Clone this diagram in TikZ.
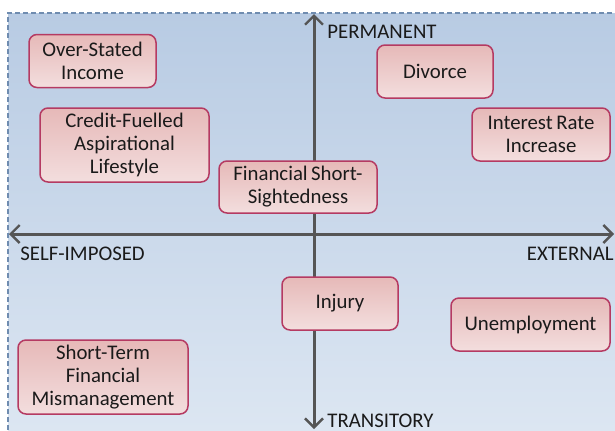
\documentclass[tikz,border=0pt]{standalone}
\usepackage{fontspec}
\setmainfont{Carlito}
\usetikzlibrary{arrows.meta}
\definecolor{bgtop}{HTML}{B8CBE3}
\definecolor{bgbot}{HTML}{DCE6F2}
\definecolor{frame}{HTML}{6F8CB0}
\definecolor{axis}{HTML}{555555}
\definecolor{boxtop}{HTML}{E6B9B8}
\definecolor{boxbot}{HTML}{F3DEDE}
\definecolor{boxline}{HTML}{B53A62}
\definecolor{ink}{HTML}{1A1A1A}
\tikzset{
  cause/.style={draw=boxline, line width=0.75pt, rounded corners=4pt,
    top color=boxtop, bottom color=boxbot, inner sep=0pt, align=center,
    text=ink, font=\fontsize{10.4}{11.5}\selectfont},
  axisline/.style={draw=axis, line width=1.5pt,
    -{Straight Barb[length=4.5pt,width=9pt,line width=1.2pt]}},
  axislabel/.style={text=ink, inner sep=0pt, font=\fontsize{10.4}{11.5}\selectfont}
}
\begin{document}
\begin{tikzpicture}[x=0.5pt,y=-0.5pt]
\useasboundingbox (0,0) rectangle (615,430);
% shaded quadrant area with dashed frame
\shade[top color=bgtop, bottom color=bgbot] (8,13) rectangle (615,430);
\draw[frame, dashed, line width=0.6pt, dash pattern=on 2.5pt off 1.5pt] (8,430) -- (8,13) -- (615,13);
% axis end points
\coordinate (cross) at (314,234);
\coordinate (west) at (9,234);
\coordinate (east) at (614,234);
\coordinate (north) at (314,14);
\coordinate (south) at (314,429);
\draw[axisline] (cross) -- (west);
\draw[axisline] (cross) -- (east);
\draw[axisline] (cross) -- (north);
\draw[axisline] (cross) -- (south);
% axis labels
\node[axislabel, anchor=west] (perm) at (327,32) {PERMANENT};
\node[axislabel, anchor=west] (trans) at (327,421) {TRANSITORY};
\node[axislabel, anchor=west] (self) at (20,254) {SELF-IMPOSED};
\node[axislabel, anchor=east] (ext) at (614,254) {EXTERNAL};
% causes
\node[cause, minimum width=63.5pt, minimum height=26.5pt] (over) at (92.5,61) {Over-Stated\\Income};
\node[cause, minimum width=84.5pt, minimum height=37pt] (credit) at (124.5,145) {Credit-Fuelled\\Aspirational\\Lifestyle};
\node[cause, minimum width=79pt, minimum height=26pt] (short) at (298,187) {Financial\,Short-\\Sightedness};
\node[cause, minimum width=58pt, minimum height=26.5pt] (divorce) at (435,71.5) {Divorce};
\node[cause, minimum width=69pt, minimum height=26.5pt] (rate) at (541,134.5) {Interest\,Rate\\Increase};
\node[cause, minimum width=58pt, minimum height=26.5pt] (injury) at (340,303.5) {Injury};
\node[cause, minimum width=79.5pt, minimum height=26.5pt] (unemp) at (530.5,324.5) {Unemployment};
\node[cause, minimum width=85pt, minimum height=37pt] (mism) at (103,377) {Short-Term\\Financial\\Mismanagement};
\end{tikzpicture}
\end{document}
